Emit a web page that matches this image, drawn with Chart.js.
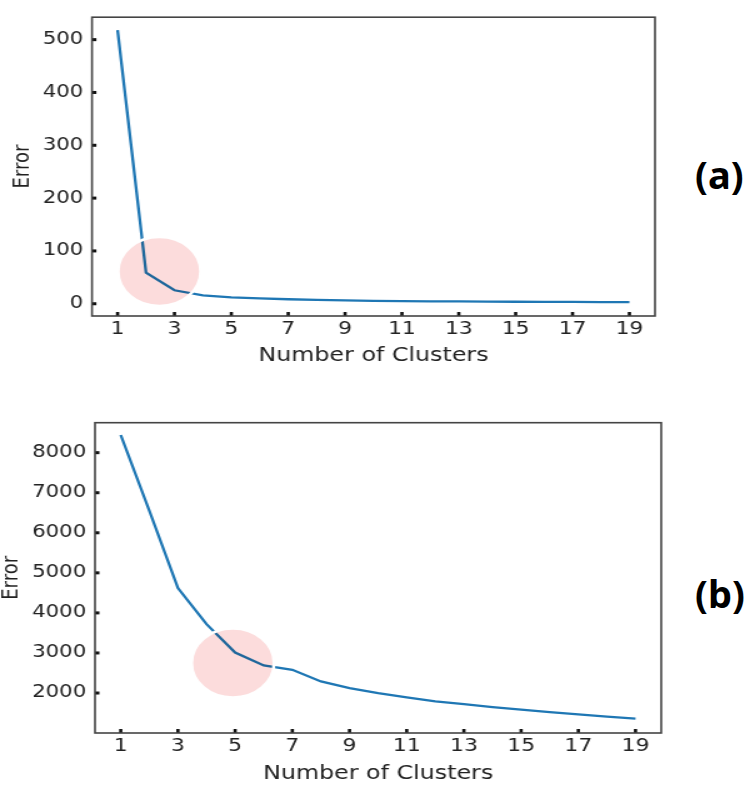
<!DOCTYPE html>
<html>
<head>
<meta charset="utf-8">
<script src="https://cdn.jsdelivr.net/npm/chart.js@4.4.1/dist/chart.umd.min.js"></script>
<style>
  html, body { margin: 0; padding: 0; background: #fff; overflow: hidden; }
  body { width: 751px; height: 786px; position: relative; }
  /* the plots are drawn narrow and widened, like the exported figure */
  .stretch { position: absolute; left: 0; transform: scaleX(1.25); transform-origin: 0 0; }
  #wrapA { top: 0; width: 544px; height: 375px; }
  #wrapB { top: 400px; width: 549px; height: 392px; }
  .tag { position: absolute; font-family: "Noto Sans", sans-serif; font-weight: bold; font-size: 38px; color: #000; }
</style>
</head>
<body>
<div class="stretch" id="wrapA"><canvas id="chartA"></canvas></div>
<div class="stretch" id="wrapB"><canvas id="chartB"></canvas></div>
<div class="tag" style="left:695px; top:148px;">(a)</div>
<div class="tag" style="left:695px; top:567px;">(b)</div>

<script>
const clusters = [1, 2, 3, 4, 5, 6, 7, 8, 9, 10, 11, 12, 13, 14, 15, 16, 17, 18, 19];
const errorA = [518, 59, 25.5, 16, 12, 10, 8.5, 7.2, 6.2, 5.5, 5, 4.6, 4.3, 4, 3.8, 3.6, 3.4, 3.2, 3];
const errorB = [8440, 6550, 4620, 3720, 3010, 2690, 2580, 2290, 2125, 2000, 1890, 1790, 1725, 1650, 1585, 1525, 1465, 1410, 1360];
const xTicks = [1, 3, 5, 7, 9, 11, 13, 15, 17, 19];
const yTicksA = [0, 100, 200, 300, 400, 500];
const yTicksB = [2000, 3000, 4000, 5000, 6000, 7000, 8000];

const textColor = "#222";
const lineBlue = "#1f77b4";

// frame, inward tick marks and the pink highlight ellipse
const framePlugin = {
  id: "frame",
  afterDatasetsDraw(chart, args, opts) {
    const ctx = chart.ctx;
    const a = chart.chartArea;
    const xs = chart.scales.x, ys = chart.scales.y;

    // highlight ellipse
    const cx = xs.getPixelForValue(opts.cx);
    const cy = ys.getPixelForValue(opts.cy);
    ctx.save();
    ctx.beginPath();
    ctx.ellipse(cx, cy, opts.rx, opts.ry, 0, 0, Math.PI * 2);
    ctx.globalCompositeOperation = "multiply";
    ctx.fillStyle = "#fcdcdc";
    ctx.fill();
    ctx.globalCompositeOperation = "source-over";
    ctx.strokeStyle = "#fff";
    ctx.lineWidth = 2.5;
    ctx.stroke();
    ctx.restore();

    // tick marks pointing into the plot
    ctx.save();
    ctx.fillStyle = "#111";
    xs.ticks.forEach(t => {
      const px = xs.getPixelForValue(t.value);
      ctx.fillRect(px - 1.3, a.bottom - 4, 2.6, 4);
    });
    ys.ticks.forEach(t => {
      const py = ys.getPixelForValue(t.value);
      ctx.fillRect(a.left, py - 1.5, 3.5, 3);
    });
    ctx.strokeStyle = "#444";
    ctx.lineWidth = 1.6;
    ctx.strokeRect(a.left, a.top, a.right - a.left, a.bottom - a.top);
    ctx.restore();
  }
};

function makeChart(id, values, yTicks, cfg) {
  const ctx = document.getElementById(id).getContext("2d");
  return new Chart(ctx, {
    type: "line",
    data: {
      datasets: [{
        data: clusters.map((c, i) => ({ x: c, y: values[i] })),
        borderColor: lineBlue,
        borderWidth: 2.3,
        pointRadius: 0,
        tension: 0,
        fill: false
      }]
    },
    options: {
      responsive: true,
      maintainAspectRatio: false,
      animation: false,
      layout: { padding: { top: cfg.padTop, right: 20, left: 0, bottom: 0 } },
      plugins: {
        legend: { display: false },
        tooltip: { enabled: false },
        frame: cfg.highlight
      },
      scales: {
        x: {
          type: "linear",
          min: 0.1,
          max: 19.9,
          grid: { display: false, drawTicks: false },
          border: { display: false },
          afterBuildTicks: s => { s.ticks = xTicks.map(v => ({ value: v })); },
          afterFit: s => { s.height = 59; },
          ticks: {
            color: textColor, padding: 3,
            font: { family: "DejaVu Sans", size: 17.5 },
            callback: v => String(v)
          },
          title: {
            display: true,
            text: "Number of Clusters",
            color: textColor,
            padding: { bottom: cfg.titlePad },
            font: { family: "DejaVu Sans", size: 19 }
          }
        },
        y: {
          min: cfg.yMin,
          max: cfg.yMax,
          grid: { display: false, drawTicks: false },
          border: { display: false },
          afterBuildTicks: s => { s.ticks = yTicks.map(v => ({ value: v })); },
          afterFit: s => { s.width = cfg.yWidth; },
          ticks: {
            color: textColor, padding: 7,
            font: { family: "DejaVu Sans", size: 17 },
            callback: v => String(v)
          },
          title: {
            display: true,
            text: "Error",
            color: textColor,
            padding: { top: cfg.errorPad },
            font: { family: "DejaVu Sans", size: 18 }
          }
        }
      }
    },
    plugins: [framePlugin]
  });
}

document.addEventListener("DOMContentLoaded", function() {
  makeChart("chartA", errorA, yTicksA, {
    padTop: 6, yMin: -23.2, yMax: 542.5, yWidth: 73.6, titlePad: 8, errorPad: 8,
    highlight: { cx: 2.47, cy: 61, rx: 33, ry: 34.5 }
  });
  makeChart("chartB", errorB, yTicksB, {
    padTop: 22.7, yMin: 1002, yMax: 8748, yWidth: 76, titlePad: 6.5, errorPad: -1,
    highlight: { cx: 4.92, cy: 2750, rx: 33, ry: 34.5 }
  });
});
</script>
</body>
</html>
